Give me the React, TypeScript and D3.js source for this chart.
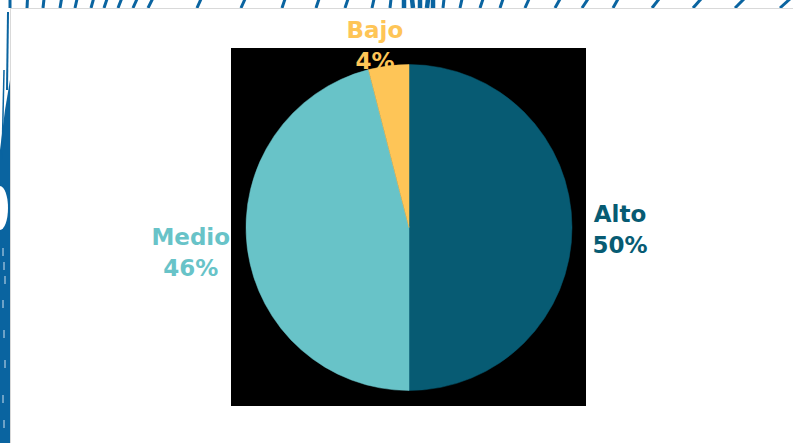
import React from "react";
import * as d3 from "d3";

const categories = ["Alto", "Medio", "Bajo"];
const values = [50, 46, 4];
const percentLabels = ["50%", "46%", "4%"];
const colors = ["#075b73", "#68c3c8", "#fec557"];

// decorative border strokes (top strip): x position and lean
const topStrokeX = [10, 27, 43, 60, 75, 91, 104, 118, 133, 148, 197, 241, 282, 316, 345, 372, 390, 404, 413, 420, 427, 433, 443, 460, 480, 500, 525, 555, 582, 613, 652, 693, 735, 780];
const topStrokeLean = [0, 0.5, 1, 1.5, 2, 2.5, 3, 3.5, 4, 4.5, 4, 4, 3, 3, 3, 2, 1, 0, -1, 0, 1, 0, 1, 2, 3, 3, 4, 5, 6, 5, 7, 8, 9, 10];

const W = 793;
const H = 443;
const cx = 409;
const cy = 227.5;
const R = 163;
// label layout: radius along mid-angle plus small adjustments
const labelLayout = [
  { r: 211, dx: 0, dy: 1 },
  { r: 220, dx: 0, dy: -3 },
  { r: 184, dx: -11, dy: 0 },
];

export default function App() {
  const pie = d3.pie<number>().sort(null).value((d) => d);
  const arcs = pie(values);
  const arc = d3.arc<d3.PieArcDatum<number>>().innerRadius(0).outerRadius(R);

  const leftPath = (() => {
    const p = d3.path();
    p.moveTo(5, 110);
    p.lineTo(10, 80);
    p.lineTo(10, 443);
    p.lineTo(0, 443);
    p.lineTo(0, 150);
    p.closePath();
    return p.toString();
  })();

  return (
    <svg width={W} height={H} style={{ position: "absolute", left: 0, top: 0 }}>
      <rect x={0} y={0} width={W} height={H} fill="#ffffff" />
      {/* decorative frame */}
      <path d={leftPath} fill="#0a64a0" />
      <ellipse cx={0} cy={208} rx={8} ry={22} fill="#ffffff" />
      {[248, 262, 276, 300, 330, 360, 395, 420].map((y, i) => (
        <line key={"lw" + i} x1={3 + (i % 3)} x2={3 + (i % 3)} y1={y} y2={y + 8} stroke="#cfe0ee" strokeWidth={1} />
      ))}
      <line x1={8} y1={12} x2={7} y2={90} stroke="#0a64a0" strokeWidth={2} />
      <line x1={4} y1={70} x2={2} y2={160} stroke="#0a64a0" strokeWidth={1.5} />
      {topStrokeX.map((x, i) => (
        <line
          key={"t" + i}
          x1={x}
          y1={8}
          x2={x + topStrokeLean[i]}
          y2={-1}
          stroke="#0a64a0"
          strokeWidth={x >= 404 && x <= 435 ? 4.5 : 3}
        />
      ))}
      <rect x={10.5} y={8.5} width={W} height={H} fill="#ffffff" stroke="#d9d9d9" strokeWidth={1} />

      {/* plot area */}
      <rect x={231} y={48} width={355} height={358} fill="#000000" />
      <g transform={`translate(${cx},${cy})`}>
        {arcs.map((a, i) => (
          <path key={categories[i]} d={arc(a) || ""} fill={colors[i]} stroke={colors[i]} strokeWidth={0.5} />
        ))}
      </g>
      {arcs.map((a, i) => {
        const mid = (a.startAngle + a.endAngle) / 2;
        const L = labelLayout[i];
        const x = cx + Math.sin(mid) * L.r + L.dx;
        const y = cy - Math.cos(mid) * L.r + L.dy;
        return (
          <text
            key={"l" + i}
            x={x}
            y={y}
            textAnchor="middle"
            fill={colors[i]}
            fontFamily="'DejaVu Sans', Verdana, sans-serif"
            fontWeight="bold"
            fontSize={23}
          >
            <tspan x={x} dy={-7}>{categories[i]}</tspan>
            <tspan x={x} dy={31}>{percentLabels[i]}</tspan>
          </text>
        );
      })}
    </svg>
  );
}
